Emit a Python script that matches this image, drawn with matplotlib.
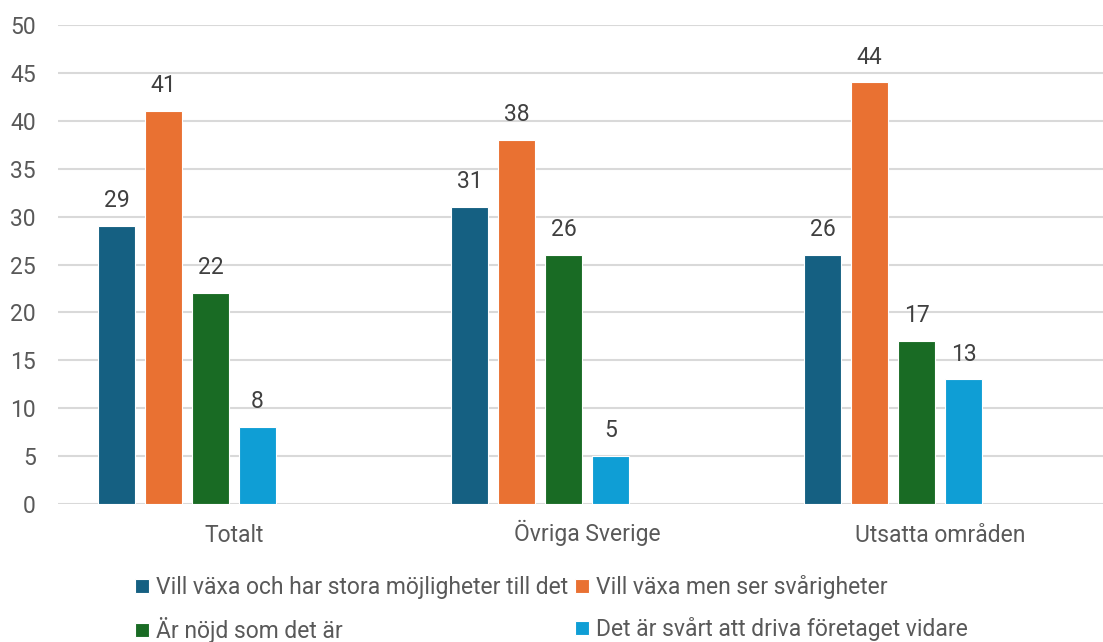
import matplotlib.pyplot as plt
import numpy as np

# Data
categories = ['Totalt', 'Övriga Sverige', 'Utsatta områden']
series_names = ['Vill växa och har stora möjligheter till det',
                'Vill växa men ser svårigheter',
                'Är nöjd som det är',
                'Det är svårt att driva företaget vidare']
vill_vaxa_mojligheter = [29, 31, 26]
vill_vaxa_svarigheter = [41, 38, 44]
nojd = [22, 26, 17]
svart_driva = [8, 5, 13]
values = [vill_vaxa_mojligheter, vill_vaxa_svarigheter, nojd, svart_driva]
colors = ['#156082', '#E97132', '#196B24', '#0F9ED5']

plt.rcParams['font.family'] = ['Roboto', 'DejaVu Sans']
text_color = '#595959'
fs = 16.5

fig = plt.figure(figsize=(11.03, 6.42), dpi=100)
ax = fig.add_axes([58 / 1103, 1 - 504 / 642, (1117 - 58) / 1103, (504 - 25) / 642])

x = np.arange(len(categories))
slot = 0.133
bar_width = 0.105
handles = []
for i, (name, vals) in enumerate(zip(series_names, values)):
    pos = x + (i - 2.5) * slot - 0.001
    bars = ax.bar(pos, vals, bar_width, color=colors[i], edgecolor='white',
                  linewidth=0.8, label=name, zorder=3)
    handles.append(bars)
    for b, v in zip(bars, vals):
        ax.annotate(f'{v}', (b.get_x() + b.get_width() / 2, v), xytext=(0, 10),
                    textcoords='offset points', ha='center', va='bottom',
                    fontsize=fs, color='#404040')

ax.set_xlim(-0.5, 2.5)
ax.set_ylim(0, 50)
ax.set_yticks(range(0, 51, 5))
ax.set_xticks(x)
ax.set_xticklabels(categories)
ax.tick_params(axis='both', length=0, labelsize=fs, colors=text_color)
ax.tick_params(axis='x', pad=27)
ax.tick_params(axis='y', pad=16)
for lab in ax.get_xticklabels():
    lab.set_verticalalignment('baseline')
ax.grid(axis='y', color='#D9D9D9', linewidth=1.5, zorder=0)
for s in ax.spines.values():
    s.set_visible(False)

# row-major legend order: matplotlib fills columns first
order = [0, 2, 1, 3]
fig.legend([handles[k] for k in order], [series_names[k] for k in order],
           loc='upper center', bbox_to_anchor=(0.5, 1 - 559 / 642), ncol=2,
           frameon=False, fontsize=fs, handlelength=0.6, handleheight=0.6,
           handletextpad=0.3, columnspacing=0.3, labelspacing=0.78,
           labelcolor=text_color, borderpad=0.2)

plt.savefig('out.png', dpi=100)
